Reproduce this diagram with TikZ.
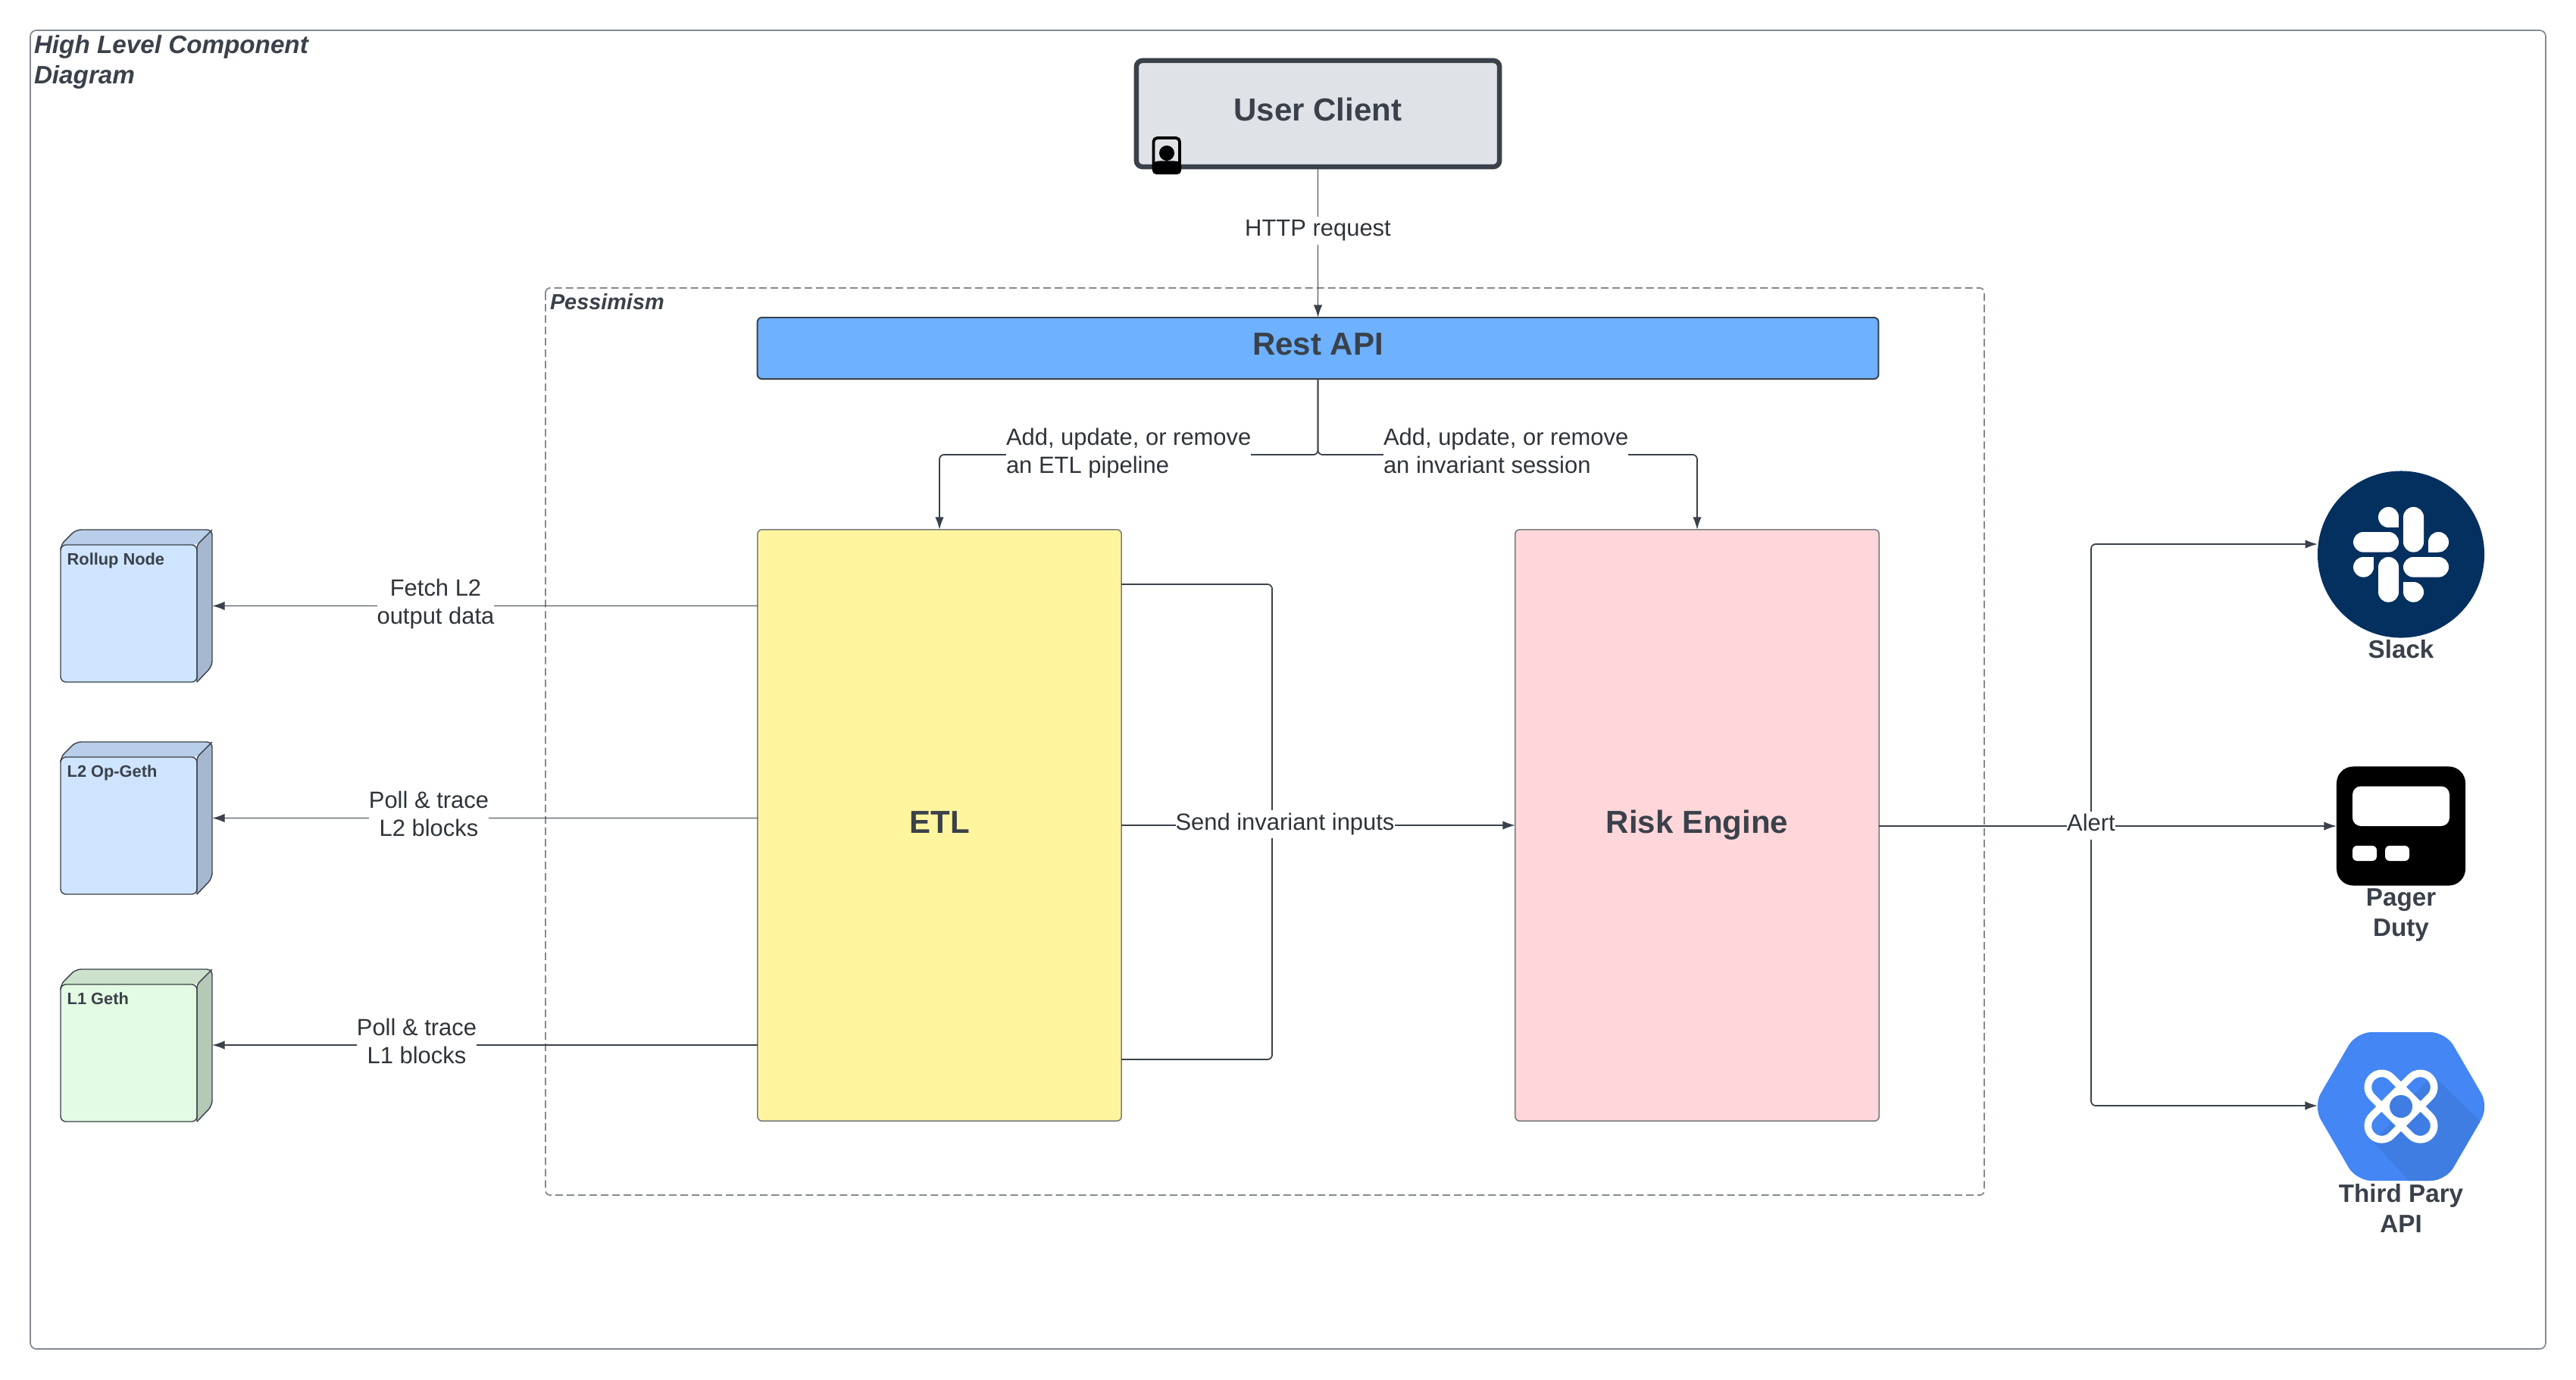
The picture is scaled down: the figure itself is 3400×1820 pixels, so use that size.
\documentclass[tikz,border=0pt]{standalone}
\usepackage{fontspec}
\setmainfont{Liberation Sans}
\usetikzlibrary{arrows.meta}
\definecolor{ink}{HTML}{3A414A}
\definecolor{labelink}{HTML}{2F343A}
\definecolor{framegray}{HTML}{858A91}
\definecolor{boxgray}{HTML}{7A7D80}
\definecolor{clientfill}{HTML}{DFE3E8}
\definecolor{apifill}{HTML}{6DB1FF}
\definecolor{etlfill}{HTML}{FFF59E}
\definecolor{riskfill}{HTML}{FFD6D9}
\definecolor{bluefront}{HTML}{CFE4FF}
\definecolor{bluetop}{HTML}{B9CEE8}
\definecolor{blueside}{HTML}{A6B7D0}
\definecolor{greenfront}{HTML}{E3FAE3}
\definecolor{greentop}{HTML}{CDE2CD}
\definecolor{greenside}{HTML}{B6C9B6}
\definecolor{slackblue}{HTML}{03305F}
\definecolor{hexblue}{HTML}{4386F4}
\definecolor{hexdark}{HTML}{3F7DE3}
\newcommand{\bigfont}{\fontsize{11.95}{14}\selectfont\bfseries}
\newcommand{\labelfont}{\fontsize{8.8}{10.53}\selectfont}
\newcommand{\iconfont}{\fontsize{9.45}{11.38}\selectfont\bfseries}
\newcommand{\smallbold}{\fontsize{6.2}{7.5}\selectfont\bfseries}
\newcommand{\mycube}[5]{%
  \fill[#3,rounded corners=0.06cm] (80,#1+20) -- (100,#1) -- (280,#1) -- (260,#1+20) -- cycle;
  \fill[#4,rounded corners=0.06cm] (260,#1+20) -- (280,#1) -- (280,#1+180) -- (260,#1+201) -- cycle;
  \filldraw[fill=#2,draw=ink,line width=0.4pt,rounded corners=0.07cm] (80,#1+20) rectangle (260,#1+201);
  \draw[ink,line width=0.4pt,rounded corners=0.07cm] (80,#1+24) -- (80,#1+20) -- (100,#1) -- (280,#1) -- (280,#1+180) -- (260,#1+201);
  \draw[ink,line width=0.4pt,rounded corners=0.04cm] (260,#1+201) -- (260,#1+20) -- (280,#1);
  \node[anchor=base west,inner sep=0pt,text=ink,font=\smallbold] at (88,#1+46) {#5};
}
\tikzset{
  x=0.01cm,y=-0.01cm,
  conn/.style={draw=ink,line width=0.5pt,rounded corners=0.06cm,-{Latex[length=0.165cm,width=0.115cm]}},
  plain/.style={draw=ink,line width=0.5pt,rounded corners=0.06cm},
  textbox/.style={inner sep=0pt,outer sep=0pt},
  shapebox/.style={rectangle,inner sep=0pt,outer sep=0pt},
  edgelabel/.style={textbox,fill=white,text=labelink,font=\labelfont},
  boxtitle/.style={textbox,anchor=base,text=ink,font=\bigfont},
  icontitle/.style={textbox,text=ink,font=\iconfont,align=center},
  compbox/.style={shapebox,draw=boxgray,line width=0.45pt,rounded corners=0.06cm,minimum width=4.8cm,minimum height=7.8cm},
}
\begin{document}
\begin{tikzpicture}
\useasboundingbox (0,0) rectangle (3400,1820);
\fill[white] (0,0) rectangle (3400,1820);
% frames
\draw[framegray,line width=0.5pt,rounded corners=0.08cm] (40,40) rectangle (3360,1780);
\node[textbox,anchor=north west,align=left,text=ink,font=\fontsize{9.45}{11.38}\selectfont\bfseries\itshape] (title) at (45,46) {High Level Component\\Diagram};
\draw[framegray,line width=0.5pt,dash pattern=on 2.85pt off 1.42pt,rounded corners=0.06cm] (720,380) rectangle (2619,1577);
\node[textbox,anchor=base west,text=ink,font=\fontsize{8.2}{10}\selectfont\bfseries\itshape] (pess) at (726,408) {Pessimism};
% client
\node[shapebox,draw=ink,fill=clientfill,line width=1.85pt,rounded corners=0.08cm,minimum width=4.79cm,minimum height=1.4cm] (client) at (1739.5,150) {};
\node[boxtitle] (clientt) at (1739.5,159) {User Client};
\draw[black,line width=1.1pt,rounded corners=0.05cm] (1522.5,182) rectangle (1557,228);
\fill[black] (1540,202) ellipse (10 and 10);
\fill[black,rounded corners=0.05cm] (1521,214) .. controls (1530,212) and (1550,212) .. (1559,214) -- (1559,230) -- (1521,230) -- cycle;
% api
\node[shapebox,draw=ink,fill=apifill,line width=0.55pt,rounded corners=0.06cm,minimum width=14.79cm,minimum height=0.81cm] (api) at (1739.5,459.5) {};
\node[boxtitle] (apit) at (1739.5,468) {Rest API};
% etl & risk
\node[compbox,fill=etlfill] (etl) at (1240,1089) {};
\node[boxtitle] (etlt) at (1240,1099) {ETL};
\node[compbox,fill=riskfill] (risk) at (2240,1089) {};
\node[boxtitle] (riskt) at (2240,1099) {Risk Engine};
% cubes
\node[shapebox,minimum width=2cm,minimum height=2.01cm] (rollup) at (180,799.5) {};
\node[shapebox,minimum width=2cm,minimum height=2.01cm] (opgeth) at (180,1079.5) {};
\node[shapebox,minimum width=2cm,minimum height=2.01cm] (geth) at (180,1379) {};
\mycube{699}{bluefront}{bluetop}{blueside}{Rollup Node}
\mycube{979}{bluefront}{bluetop}{blueside}{L2 Op-Geth}
\mycube{1279}{greenfront}{greentop}{greenside}{L1 Geth}
% slack
\node[shapebox,circle,fill=slackblue,minimum size=2.2cm] (slack) at (3169,731.5) {};
\fill[white,rounded corners=0.133cm] (3172,669) rectangle (3199,728.6);
\fill[white,rounded corners=0.133cm] (3106,702) rectangle (3166,728.6);
\fill[white,rounded corners=0.133cm] (3139,669) rectangle (3166,696);
\fill[white] (3153,683) rectangle (3166,696);
\fill[white,rounded corners=0.133cm] (3205,702) rectangle (3232,728.6);
\fill[white] (3205,716) rectangle (3218,728.6);
\fill[white,rounded corners=0.133cm] (3172,735) rectangle (3232,761.6);
\fill[white,rounded corners=0.133cm] (3139,735) rectangle (3166,794.6);
\fill[white,rounded corners=0.133cm] (3106,735) rectangle (3133,761.6);
\fill[white] (3120,735) rectangle (3133,748);
\fill[white,rounded corners=0.133cm] (3172,768) rectangle (3199,794.6);
\fill[white] (3172,768) rectangle (3185,781);
\node[icontitle] (slackt) at (3169,857) {Slack};
% pager
\node[shapebox,fill=black,rounded corners=0.22cm,minimum width=1.7cm,minimum height=1.57cm] (pager) at (3169,1090) {};
\fill[white,rounded corners=0.11cm] (3105,1037.5) rectangle (3233,1090);
\fill[white,rounded corners=0.06cm] (3105,1116) rectangle (3137,1136);
\fill[white,rounded corners=0.06cm] (3148,1116) rectangle (3180,1136);
\node[icontitle] (pagert) at (3169,1207.5) {Pager\\Duty};
% third party
\node[shapebox,minimum width=2.2cm,minimum height=1.96cm] (third) at (3169,1460) {};
\fill[hexblue,rounded corners=0.2cm] (3053,1460) -- (3110,1362) -- (3228,1362) -- (3285,1460) -- (3228,1558) -- (3110,1558) -- cycle;
\begin{scope}
\clip[rounded corners=0.2cm] (3053,1460) -- (3110,1362) -- (3228,1362) -- (3285,1460) -- (3228,1558) -- (3110,1558) -- cycle;
\fill[hexdark] (3210,1418) -- (3300,1505) -- (3290,1570) -- (3190,1570) -- (3133,1507) -- cycle;
\end{scope}
\draw[white,line width=2.75pt,rounded corners=0.182cm,rotate around={45:(3169,1460)}] (3114.8,1441.8) rectangle (3223.2,1478.2);
\draw[white,line width=2.75pt,rounded corners=0.182cm,rotate around={-45:(3169,1460)}] (3114.8,1441.8) rectangle (3223.2,1478.2);
\fill[white] (3169,1432) -- (3197,1460) -- (3169,1488) -- (3141,1460) -- cycle;
\fill[hexdark] (3169,1460) circle (15);
\node[icontitle] (thirdt) at (3169,1594.5) {Third Pary\\API};
% connectors
\coordinate (slackin) at (3059,718);
\coordinate (trunk) at (2760,1090);
\draw[conn] (client.south) -- (api.north);
\node[edgelabel] (http) at (1739.5,304.5) {\strut HTTP request};
\draw[conn] (api.south) |- (1240,600) -- (etl.north);
\draw[conn] (api.south) |- (2240,600) -- (risk.north);
\node[edgelabel,anchor=west,align=left] (addetl) at (1328,598.5) {\strut Add, update, or remove\\\strut an ETL pipeline};
\node[edgelabel,anchor=west,align=left] (addrisk) at (1826,598.5) {\strut Add, update, or remove\\\strut an invariant session};
\draw[conn] (etl.west |- rollup) -- (rollup.east);
\draw[conn] (etl.west |- opgeth) -- (opgeth.east);
\draw[conn] (etl.west |- geth) -- (geth.east);
\node[edgelabel,align=center] (fetch) at (575,797.5) {\strut Fetch L2\\\strut output data};
\node[edgelabel,align=center] (poll2) at (566,1077.5) {\strut Poll \& trace\\\strut L2 blocks};
\node[edgelabel,align=center] (poll1) at (550,1377.5) {\strut Poll \& trace\\\strut L1 blocks};
\draw[plain] (1480,771) -- (1679,771) -- (1679,1398) -- (1480,1398);
\draw[conn] (etl.east) -- (risk.west);
\node[edgelabel] (send) at (1696,1087.6) {\strut Send invariant inputs};
\draw[conn] (risk.east |- trunk) -- (pager.west);
\draw[conn] (trunk) -- (2760,718) -- (slackin);
\draw[conn] (trunk) -- (2760,1459) -- (third.west |- 0,1459);
\node[edgelabel] (alert) at (2760,1089) {\strut Alert};
\end{tikzpicture}
\end{document}
